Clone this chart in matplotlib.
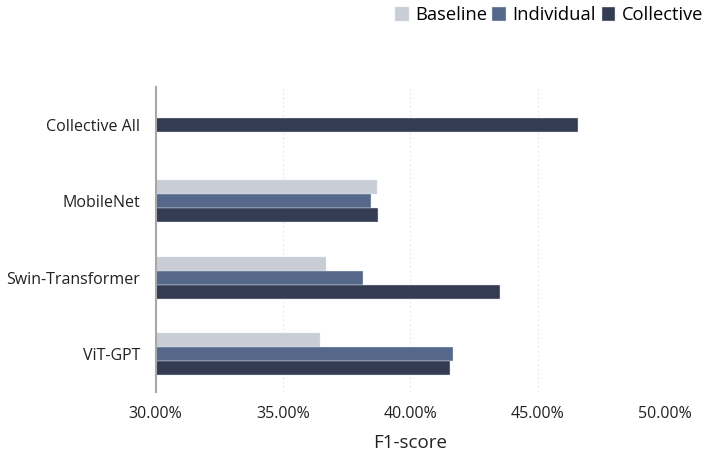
import numpy as np
import matplotlib.pyplot as plt
from matplotlib.ticker import FuncFormatter

plt.rcParams['font.family'] = ['Open Sans', 'DejaVu Sans']

# --- Data ---
models = ["ViT-GPT", "Swin-Transformer", "MobileNet"]
baseline = [36.46, 36.68, 38.70]
individual = [41.66, 38.16, 38.46]
collective = [41.55, 43.54, 38.75]
collective_all = 46.60

labels = models + ["Collective All"]
series_names = ["Baseline", "Individual", "Collective"]
colors = ["#c9ced6", "#56688a", "#333c52"]

fig = plt.figure(figsize=(7.12, 4.62), dpi=100)
ax = fig.add_axes([155.5 / 712, 1 - 392 / 462, (665 - 155.5) / 712, (392 - 87) / 462])

h = 0.183
y = np.arange(len(models))
ax.barh(y + h, baseline, height=h, color=colors[0], label=series_names[0],
        edgecolor="#dfe3ea", linewidth=0.3)
ax.barh(y, individual, height=h, color=colors[1], label=series_names[1],
        edgecolor="#dfe3ea", linewidth=0.3)
ax.barh(y - h, collective, height=h, color=colors[2], label=series_names[2],
        edgecolor="#dfe3ea", linewidth=0.3)
# Collective All: tek bar, ortada
ax.barh([len(models)], [collective_all], height=h, color=colors[2],
        edgecolor="#dfe3ea", linewidth=0.3)

ax.set_xlim(30, 50)
ax.set_ylim(-0.5, len(labels) - 0.5)
ax.set_xticks([30, 35, 40, 45, 50])
ax.xaxis.set_major_formatter(FuncFormatter(lambda v, p: f"{v:.2f}%"))
ax.set_yticks(np.arange(len(labels)))
ax.set_yticklabels(labels)

ax.grid(axis="x", linestyle=(0, (1.5, 2.5)), color="#e4e4e4", linewidth=0.8)
ax.set_axisbelow(True)
for s in ["top", "right", "bottom"]:
    ax.spines[s].set_visible(False)
ax.spines["left"].set_color("#a8a8a8")
ax.spines["left"].set_linewidth(1.5)
ax.tick_params(axis="both", length=0, labelsize=11.5, colors="#222222")
ax.tick_params(axis="x", pad=10)
ax.tick_params(axis="y", pad=11)

ax.set_xlabel("F1-score", fontsize=13.5, color="#222222", labelpad=9)

fig.legend(loc="upper right", bbox_to_anchor=(1.003, 1.01), ncol=3, frameon=False,
           fontsize=13.2, handlelength=0.75, handleheight=0.75, handletextpad=0.35,
           columnspacing=0.3, borderaxespad=0.2)

fig.savefig("out.png", dpi=100, facecolor="white")
